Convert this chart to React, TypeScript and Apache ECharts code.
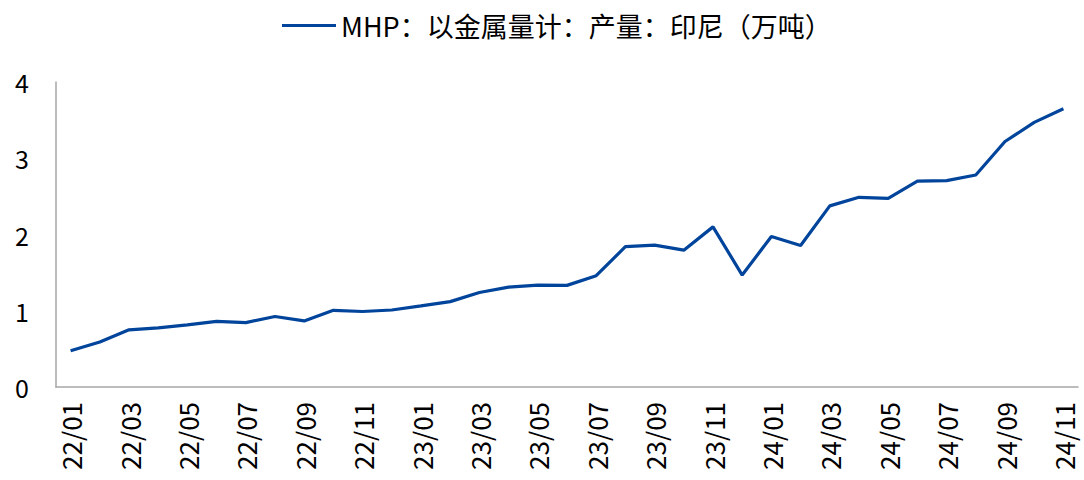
import React, { useEffect, useRef } from "react";
import * as echarts from "echarts";

const categories = [
  "22/01", "22/02", "22/03", "22/04", "22/05", "22/06", "22/07", "22/08", "22/09", "22/10", "22/11", "22/12",
  "23/01", "23/02", "23/03", "23/04", "23/05", "23/06", "23/07", "23/08", "23/09", "23/10", "23/11", "23/12",
  "24/01", "24/02", "24/03", "24/04", "24/05", "24/06", "24/07", "24/08", "24/09", "24/10", "24/11",
];

const seriesName = "MHP：以金属量计：产量：印尼（万吨）";

const values = [
  0.475, 0.59, 0.75, 0.775, 0.815, 0.86, 0.845, 0.925, 0.867, 1.006, 0.99, 1.01,
  1.063, 1.12, 1.24, 1.31, 1.337, 1.333, 1.46, 1.84, 1.86, 1.795, 2.1, 1.468,
  1.974, 1.856, 2.375, 2.488, 2.475, 2.7, 2.706, 2.78, 3.22, 3.47, 3.65,
];

const FONT = "'Noto Sans CJK SC', 'Noto Sans', sans-serif";

export default function App() {
  const ref = useRef<HTMLDivElement>(null);
  useEffect(() => {
    if (!ref.current) return;
    const chart = echarts.init(ref.current, undefined, { renderer: "svg" });
    chart.setOption({
      animation: false,
      textStyle: { fontFamily: FONT },
      legend: {
        top: 7,
        left: 277,
        icon: "rect",
        itemWidth: 54,
        itemHeight: 3,
        itemGap: 6,
        textStyle: { fontSize: 27, color: "#000", fontFamily: FONT },
        data: [seriesName],
      },
      grid: { left: 56, right: 6, top: 82, bottom: 93 },
      xAxis: {
        type: "category",
        data: categories,
        boundaryGap: true,
        axisLine: { show: true, lineStyle: { color: "#a6a6a6", width: 1.5 } },
        axisTick: { show: false },
        axisLabel: {
          interval: 1,
          rotate: 90,
          margin: 15,
          fontSize: 26,
          color: "#000",
          fontFamily: FONT,
        },
        splitLine: { show: false },
      },
      yAxis: {
        type: "value",
        min: 0,
        max: 4,
        interval: 1,
        axisLine: { show: true, lineStyle: { color: "#a6a6a6", width: 1.5 } },
        axisTick: { show: false },
        axisLabel: { margin: 27, fontSize: 25, color: "#000", fontFamily: FONT },
        splitLine: { show: false },
      },
      series: [
        {
          name: seriesName,
          type: "line",
          data: values,
          showSymbol: false,
          symbol: "none",
          lineStyle: { color: "#00449b", width: 3.2 },
          itemStyle: { color: "#00449b" },
        },
      ],
    });
    return () => chart.dispose();
  }, []);
  return (
    <div
      ref={ref}
      style={{ position: "absolute", left: 0, top: 0, width: 1084, height: 480 }}
    />
  );
}
